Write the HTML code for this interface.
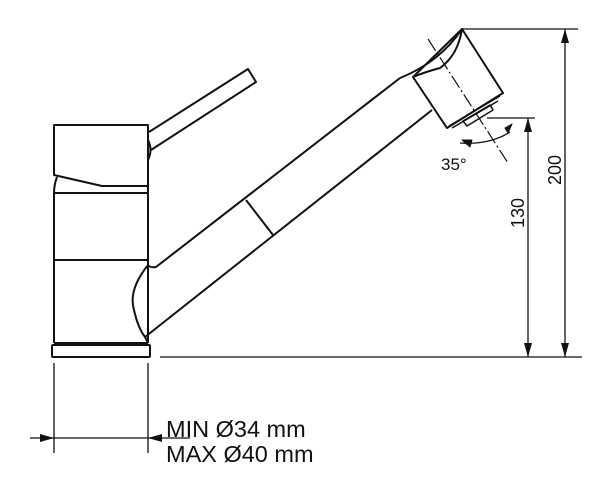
<!DOCTYPE html>
<html><head><style>body{margin:0;background:#fff}svg{display:block}</style></head><body>
<svg width="600" height="481" viewBox="0 0 600 481" xmlns="http://www.w3.org/2000/svg" fill="none" stroke="#111" stroke-width="2" stroke-linejoin="round">
<!-- lever -->
<path d="M149 132 L248 69 L256 82 L151 150"/>
<!-- cap -->
<path d="M54 125 L148 125 L148 186 L102 186 L54 175 Z"/>
<path d="M148 140 Q153 150 148 160"/>
<!-- body -->
<path d="M57 177 Q54 185 54 193 L54 343 M148 186 L148 343"/>
<line x1="54" y1="193" x2="148" y2="193"/>
<line x1="54" y1="260" x2="148" y2="260"/>
<line x1="54" y1="343" x2="148" y2="343"/>
<rect x="52" y="345" width="98" height="12" rx="1"/>
<!-- spout -->
<path d="M148 265 Q150 268 156 267 L400 78"/>
<path d="M145 337 L432 110"/>
<path d="M148 265 Q128 290 134 310 Q138 328 145 337 L148 343"/>
<line x1="246" y1="200" x2="273" y2="235"/>
<!-- head -->
<path d="M400 78 Q440 62 462 29 Q458 55 440 68 Q425 72 413 77"/>
<path d="M413 77 L462 29 L503 93 L447 128 Z"/>
<path d="M449 126 L500 96 M452 128 L498 101" stroke-width="1.5"/>
<path d="M463 121 L490 105 L493 110 L467 126 Z" stroke-width="1.5"/>
<line x1="428" y1="39" x2="508" y2="163" stroke-width="1.2" stroke-dasharray="14 3 2 3"/>
<!-- 35 arc -->
<path d="M460 143 Q490 145 510 132" stroke-width="1.3"/>
<path d="M470 147 L462 140 L472 140 Z M505 128 L512 124 L508 133 Z" fill="#111" stroke-width="1"/>
<!-- dims -->
<g stroke-width="1.3">
<line x1="462" y1="29" x2="578" y2="29"/>
<line x1="565" y1="29" x2="565" y2="357"/>
<line x1="487" y1="118" x2="535" y2="118"/>
<line x1="528" y1="118" x2="528" y2="357"/>
<line x1="160" y1="357" x2="582" y2="357"/>
<line x1="54" y1="363" x2="54" y2="453"/>
<line x1="148" y1="363" x2="148" y2="453"/>
<line x1="30" y1="438" x2="190" y2="438"/>
</g>
<g fill="#111" stroke="none">
<path d="M565 29 L561 43 L569 43 Z M565 357 L561 343 L569 343 Z"/>
<path d="M528 118 L524 132 L532 132 Z M528 357 L524 343 L532 343 Z"/>
<path d="M54 438 L40 434 L40 442 Z M148 438 L162 434 L162 442 Z"/>
</g>
<g fill="#111" stroke="none" font-family="Liberation Sans, sans-serif">
<text x="441" y="170" font-size="17">35°</text>
<text transform="translate(561 185) rotate(-90)" font-size="18">200</text>
<text transform="translate(524 228) rotate(-90)" font-size="18">130</text>
<text x="166" y="437" font-size="23.5">MIN Ø34 mm</text>
<text x="166" y="462" font-size="23.5">MAX Ø40 mm</text>
</g>
</svg>
</body></html>
